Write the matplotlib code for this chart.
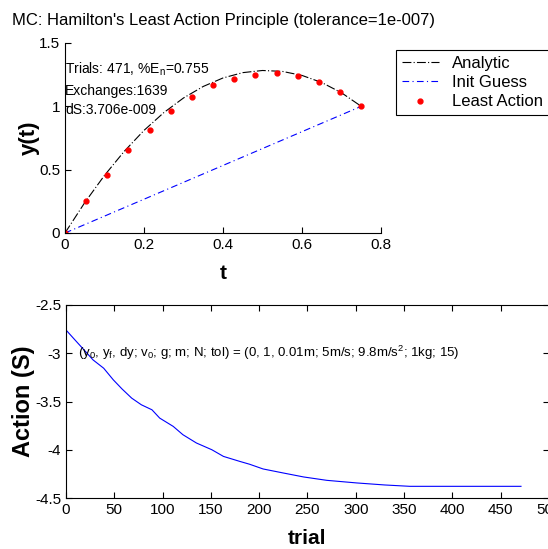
import matplotlib.pyplot as plt

# data
t_pts = [0.0, 0.0536, 0.1071, 0.1607, 0.2143, 0.2679, 0.3214, 0.375,
         0.4286, 0.4821, 0.5357, 0.5893, 0.6429, 0.6964, 0.75]
y_pts = [0.0, 0.25, 0.46, 0.658, 0.816, 0.966, 1.071, 1.168,
         1.218, 1.25, 1.263, 1.239, 1.189, 1.113, 1.005]

t_an = [0.0, 0.05, 0.10, 0.15, 0.20, 0.25, 0.30, 0.35, 0.40, 0.45,
        0.50, 0.55, 0.60, 0.65, 0.70, 0.75]
y_an = [0.0, 0.24, 0.455, 0.645, 0.81, 0.95, 1.066, 1.157, 1.224, 1.266,
        1.283, 1.276, 1.244, 1.188, 1.107, 1.0]

t_guess = [0.0, 0.75]
y_guess = [0.0, 1.0]

trial = [0, 10, 20, 28, 39, 49, 58, 68, 78, 89, 97, 111, 121, 135, 151,
         163, 180, 190, 204, 225, 246, 270, 301, 330, 356, 400, 450, 471]
action = [-2.759, -2.87, -2.98, -3.069, -3.155, -3.276, -3.37, -3.465,
          -3.534, -3.586, -3.672, -3.758, -3.844, -3.93, -4.0, -4.069,
          -4.121, -4.15, -4.199, -4.241, -4.282, -4.317, -4.344, -4.365,
          -4.379, -4.379, -4.379, -4.379]

plt.rcParams['font.family'] = ['Liberation Sans', 'DejaVu Sans']
plt.rcParams['axes.unicode_minus'] = False
plt.rcParams['xtick.direction'] = 'in'
plt.rcParams['ytick.direction'] = 'in'

fig = plt.figure(figsize=(5.48, 5.49), dpi=100)
W, H = 548, 549

def box(l, t, r, b):
    return [l / W, 1 - b / H, (r - l) / W, (b - t) / H]

# top panel
ax1 = fig.add_axes(box(65, 43, 381, 233))
ax1.plot(t_an, y_an, color='black', lw=0.8, dashes=(8, 2, 1, 2), label='Analytic')
ax1.plot(t_guess, y_guess, color='blue', lw=0.8, dashes=(6, 3, 1, 3), label='Init Guess')
ax1.plot(t_pts, y_pts, '.', color='red', ms=7, label='Least Action')
ax1.set_xlim(0, 0.8)
ax1.set_ylim(0, 1.5)
ax1.set_xticks([0, 0.2, 0.4, 0.6, 0.8])
ax1.set_yticks([0, 0.5, 1, 1.5])
ax1.set_xticklabels(['0', '0.2', '0.4', '0.6', '0.8'])
ax1.set_yticklabels(['0', '0.5', '1', '1.5'])
ax1.tick_params(labelsize=11, length=4, width=0.8)
ax1.spines['top'].set_visible(False)
ax1.spines['right'].set_visible(False)
ax1.set_xlabel('t', fontsize=15, fontweight='bold', labelpad=9)
ax1.set_ylabel('y(t)', fontsize=16, fontweight='bold')
ax1.yaxis.set_label_coords(-0.08, 0.5)
fig.text(12 / W, 1 - 20 / H, "MC: Hamilton's Least Action Principle (tolerance=1e-007)",
         fontsize=12, ha='left', va='center')
ax1.text(0.0, 1.29, 'Trials: 471, %E$_\\mathregular{n}$=0.755', fontsize=10, va='center')
ax1.text(0.0, 1.118, 'Exchanges:1639', fontsize=10, va='center')
ax1.text(0.0, 0.97, 'dS:3.706e-009', fontsize=10, va='center')
leg = fig.legend(loc='upper left', bbox_to_anchor=(388 / W, 1 - 42 / H),
                 fontsize=12, fancybox=False, framealpha=1, edgecolor='black',
                 handlelength=2.2, borderpad=0.35, labelspacing=0.25)
leg.get_frame().set_linewidth(0.8)

# bottom panel
ax2 = fig.add_axes(box(66, 305, 549, 498))
ax2.plot(trial, action, color='blue', lw=0.8)
ax2.set_xlim(0, 500)
ax2.set_ylim(-4.5, -2.5)
ax2.set_xticks(range(0, 501, 50))
ax2.set_yticks([-4.5, -4, -3.5, -3, -2.5])
ax2.set_yticklabels(['-4.5', '-4', '-3.5', '-3', '-2.5'])
ax2.tick_params(labelsize=11, length=4, width=0.8, top=True, right=True)
ax2.set_xlabel('trial', fontsize=15, fontweight='bold', labelpad=9)
ax2.set_ylabel('Action (S)', fontsize=17, fontweight='bold')
ax2.yaxis.set_label_coords(-0.065, 0.5)
ax2.text(12, -3.0, '(y$_\\mathregular{0}$, y$_\\mathregular{f}$, dy; v$_\\mathregular{0}$; g; m; N; tol) = '
         '(0, 1, 0.01m; 5m/s; 9.8m/s$^\\mathregular{2}$; 1kg; 15)', fontsize=9.5, va='center')

plt.savefig('out.png', dpi=100)
